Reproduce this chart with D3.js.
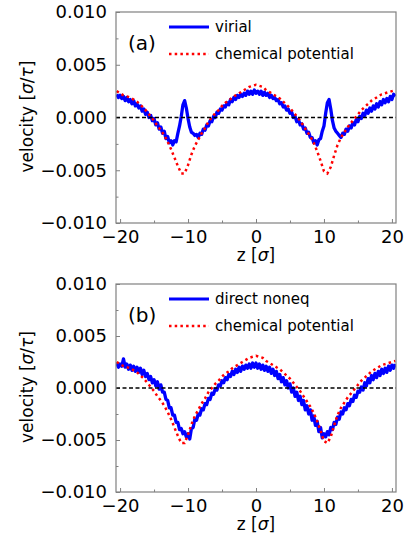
<!DOCTYPE html>
<html>
<head>
<meta charset="utf-8">
<script src="https://cdn.jsdelivr.net/npm/d3@7"></script>
<style>
  body { margin: 0; background: #fff; }
  text { font-family: "DejaVu Sans", sans-serif; }
</style>
</head>
<body>
<svg id="chart" width="407" height="539"></svg>
<script>
// ticks
const zTicks = [-20, -10, 0, 10, 20];
const zMinor = [-15, -5, 5, 15];
const vTicks = [-0.010, -0.005, 0, 0.005, 0.010];
const vMinor = [-0.0075, -0.0025, 0.0025, 0.0075];

// blue series, sampled every 0.25 sigma from z = -20.5 (4 values per row)
const virial = [
  0.0022, 0.0019, 0.0021, 0.0018,
  0.0020, 0.0016, 0.0019, 0.0015,
  0.0017, 0.0013, 0.0016, 0.0011,
  0.0013, 0.0009, 0.0011, 0.0006,
  0.0008, 0.0003, 0.0005, 0.0000,
  0.0002, -0.0003, -0.0001, -0.0007,
  -0.0005, -0.0011, -0.0009, -0.0015,
  -0.0013, -0.0020, -0.0018, -0.0024,
  -0.0022, -0.0026, -0.0022, -0.0023,
  -0.0015, -0.0008, 0.0001, 0.0012,
  0.0016, 0.0009, -0.0001, -0.0009,
  -0.0014, -0.0015, -0.0017, -0.0016,
  -0.0019, -0.0015, -0.0016, -0.0011,
  -0.0012, -0.0007, -0.0008, -0.0003,
  -0.0004, 0.0001, 0.0000, 0.0005,
  0.0004, 0.0008, 0.0007, 0.0011,
  0.0010, 0.0014, 0.0012, 0.0017,
  0.0015, 0.0019, 0.0017, 0.0021,
  0.0019, 0.0022, 0.0020, 0.0023,
  0.0021, 0.0025, 0.0022, 0.0025,
  0.0022, 0.0026, 0.0023, 0.0025,
  0.0022, 0.0025, 0.0021, 0.0024,
  0.0021, 0.0023, 0.0019, 0.0021,
  0.0018, 0.0019, 0.0016, 0.0017,
  0.0013, 0.0014, 0.0010, 0.0011,
  0.0007, 0.0008, 0.0004, 0.0005,
  0.0000, 0.0001, -0.0004, -0.0002,
  -0.0007, -0.0006, -0.0011, -0.0010,
  -0.0015, -0.0014, -0.0019, -0.0019,
  -0.0024, -0.0022, -0.0026, -0.0021,
  -0.0020, -0.0013, -0.0008, 0.0004,
  0.0014, 0.0017, 0.0008, -0.0003,
  -0.0010, -0.0013, -0.0015, -0.0017,
  -0.0019, -0.0015, -0.0016, -0.0011,
  -0.0013, -0.0008, -0.0010, -0.0005,
  -0.0007, -0.0002, -0.0004, 0.0001,
  -0.0001, 0.0004, 0.0002, 0.0007,
  0.0004, 0.0009, 0.0006, 0.0011,
  0.0008, 0.0013, 0.0010, 0.0015,
  0.0012, 0.0017, 0.0014, 0.0018,
  0.0015, 0.0020, 0.0017, 0.0022,
  0.0020
];

const directNoneq = [
  0.0024, 0.0020, 0.0023, 0.0021,
  0.0028, 0.0020, 0.0023, 0.0018,
  0.0022, 0.0017, 0.0021, 0.0016,
  0.0020, 0.0015, 0.0019, 0.0013,
  0.0017, 0.0011, 0.0014, 0.0008,
  0.0011, 0.0005, 0.0008, 0.0002,
  0.0006, -0.0001, 0.0003, -0.0004,
  -0.0004, -0.0011, -0.0012, -0.0019,
  -0.0019, -0.0026, -0.0026, -0.0033,
  -0.0033, -0.0040, -0.0039, -0.0044,
  -0.0042, -0.0047, -0.0044, -0.0049,
  -0.0039, -0.0038, -0.0030, -0.0031,
  -0.0025, -0.0026, -0.0020, -0.0021,
  -0.0015, -0.0016, -0.0010, -0.0011,
  -0.0005, -0.0006, -0.0001, -0.0002,
  0.0003, 0.0002, 0.0007, 0.0005,
  0.0010, 0.0008, 0.0013, 0.0011,
  0.0016, 0.0013, 0.0018, 0.0015,
  0.0020, 0.0016, 0.0021, 0.0018,
  0.0022, 0.0019, 0.0023, 0.0019,
  0.0024, 0.0020, 0.0024, 0.0019,
  0.0023, 0.0018, 0.0022, 0.0017,
  0.0021, 0.0016, 0.0020, 0.0014,
  0.0018, 0.0012, 0.0016, 0.0009,
  0.0013, 0.0006, 0.0010, 0.0003,
  0.0007, 0.0000, 0.0004, -0.0004,
  0.0000, -0.0008, -0.0004, -0.0012,
  -0.0008, -0.0016, -0.0012, -0.0021,
  -0.0017, -0.0025, -0.0021, -0.0031,
  -0.0027, -0.0036, -0.0032, -0.0042,
  -0.0038, -0.0048, -0.0044, -0.0047,
  -0.0042, -0.0045, -0.0038, -0.0040,
  -0.0033, -0.0035, -0.0028, -0.0030,
  -0.0023, -0.0025, -0.0019, -0.0021,
  -0.0015, -0.0017, -0.0011, -0.0013,
  -0.0007, -0.0009, -0.0003, -0.0004,
  0.0001, -0.0002, 0.0005, 0.0002,
  0.0009, 0.0005, 0.0012, 0.0008,
  0.0014, 0.0010, 0.0016, 0.0012,
  0.0018, 0.0014, 0.0019, 0.0015,
  0.0021, 0.0017, 0.0022, 0.0019,
  0.0023
];

// red series, sampled every 0.5 sigma from z = -20.5 (4 values per row)
const chemPot = [
  0.0025, 0.0023, 0.0021, 0.0020,
  0.0019, 0.0017, 0.0015, 0.0012,
  0.0009, 0.0005, 0.0001, -0.0003,
  -0.0008, -0.0012, -0.0017, -0.0023,
  -0.0030, -0.0038, -0.0046, -0.0053,
  -0.0053, -0.0045, -0.0035, -0.0027,
  -0.0021, -0.0015, -0.0010, -0.0004,
  0.0000, 0.0004, 0.0007, 0.0011,
  0.0014, 0.0016, 0.0019, 0.0021,
  0.0023, 0.0025, 0.0027, 0.0029,
  0.0030, 0.0031, 0.0030, 0.0029,
  0.0026, 0.0024, 0.0022, 0.0020,
  0.0018, 0.0015, 0.0012, 0.0009,
  0.0005, 0.0001, -0.0003, -0.0008,
  -0.0013, -0.0018, -0.0024, -0.0032,
  -0.0041, -0.0051, -0.0053, -0.0047,
  -0.0036, -0.0026, -0.0019, -0.0014,
  -0.0009, -0.0005, -0.0001, 0.0003,
  0.0007, 0.0010, 0.0013, 0.0016,
  0.0018, 0.0020, 0.0022, 0.0023,
  0.0024, 0.0025, 0.0026
];

const zFine = virial.map((_, i) => -20.5 + i * 0.25);
const zCoarse = chemPot.map((_, i) => -20.5 + i * 0.5);

const panels = [
  { tag: '(a)', blueLabel: 'virial', blue: virial, top: 12, bottom: 223 },
  { tag: '(b)', blueLabel: 'direct noneq', blue: directNoneq, top: 284, bottom: 492 },
];

const svg = d3.select('#chart');
const left = 116;
const right = 396;
const frameColor = '#808080';
const tickFont = 18;

panels.forEach((p, k) => {
  const x = d3.scaleLinear().domain([-20.6, 20.6]).range([left, right]);
  const y = d3.scaleLinear().domain([-0.010, 0.010]).range([p.bottom, p.top]);
  const g = svg.append('g');

  g.append('clipPath')
    .attr('id', 'clip' + k)
    .append('rect')
    .attr('x', left)
    .attr('y', p.top)
    .attr('width', right - left)
    .attr('height', p.bottom - p.top);

  // x axis (ticks pointing inward)
  const xa = g.append('g')
    .attr('transform', `translate(0,${p.bottom})`)
    .call(d3.axisBottom(x).tickValues(zTicks).tickFormat(d3.format('d'))
      .tickSizeInner(-4).tickSizeOuter(0));
  xa.append('g').call(d3.axisBottom(x).tickValues(zMinor).tickFormat('')
    .tickSizeInner(-2.5).tickSizeOuter(0));
  xa.selectAll('text').attr('y', 19.5).attr('dy', null)
    .attr('font-size', tickFont).attr('fill', '#000').attr('font-family', '"DejaVu Sans", sans-serif');

  const ya = g.append('g')
    .attr('transform', `translate(${left},0)`)
    .call(d3.axisLeft(y).tickValues(vTicks).tickFormat(d3.format('.3f'))
      .tickSizeInner(-4).tickSizeOuter(0).tickPadding(9));
  ya.append('g').call(d3.axisLeft(y).tickValues(vMinor).tickFormat('')
    .tickSizeInner(-2.5).tickSizeOuter(0));
  ya.selectAll('text').attr('font-size', tickFont).attr('fill', '#000')
    .attr('font-family', '"DejaVu Sans", sans-serif');

  g.selectAll('.domain').remove();
  g.selectAll('.tick line').attr('stroke', frameColor).attr('stroke-width', 1);

  const plot = g.append('g').attr('clip-path', `url(#clip${k})`);

  const blueLine = d3.line().x((d, i) => x(zFine[i])).y(d => y(d));
  const redLine = d3.line().x((d, i) => x(zCoarse[i])).y(d => y(d));

  plot.append('path')
    .datum(p.blue)
    .attr('d', blueLine)
    .attr('fill', 'none')
    .attr('stroke', '#0000ff')
    .attr('stroke-width', 3.3)
    .attr('stroke-linejoin', 'round');

  plot.append('path')
    .datum(chemPot)
    .attr('d', redLine)
    .attr('fill', 'none')
    .attr('stroke', '#ff0000')
    .attr('stroke-width', 2.5)
    .attr('stroke-dasharray', '2.5,3.2');

  plot.append('line')
    .attr('x1', left).attr('x2', right)
    .attr('y1', y(0)).attr('y2', y(0))
    .attr('stroke', '#000')
    .attr('stroke-width', 1.3)
    .attr('stroke-dasharray', '4,2.5');

  // frame
  g.append('rect')
    .attr('x', left).attr('y', p.top)
    .attr('width', right - left).attr('height', p.bottom - p.top)
    .attr('fill', 'none')
    .attr('stroke', frameColor)
    .attr('stroke-width', 1.2);

  // panel tag
  g.append('text')
    .attr('x', 128).attr('y', p.top + 31).attr('dy', '0.35em')
    .attr('font-size', 20)
    .text(p.tag);

  // legend
  const leg = g.append('g');
  leg.append('line')
    .attr('x1', 169).attr('x2', 209)
    .attr('y1', p.top + 15).attr('y2', p.top + 15)
    .attr('stroke', '#0000ff').attr('stroke-width', 3);
  leg.append('text')
    .attr('x', 215).attr('y', p.top + 15).attr('dy', '0.35em')
    .attr('font-size', 15)
    .text(p.blueLabel);
  leg.append('line')
    .attr('x1', 169).attr('x2', 209)
    .attr('y1', p.top + 42).attr('y2', p.top + 42)
    .attr('stroke', '#ff0000').attr('stroke-width', 2.5)
    .attr('stroke-dasharray', '2.5,3.2');
  leg.append('text')
    .attr('x', 215).attr('y', p.top + 42).attr('dy', '0.35em')
    .attr('font-size', 15)
    .text('chemical potential');

  // axis labels
  const xl = g.append('text')
    .attr('x', (left + right) / 2).attr('y', p.bottom + 38)
    .attr('text-anchor', 'middle')
    .attr('font-size', 17);
  xl.append('tspan').text('z [');
  xl.append('tspan').attr('font-style', 'italic').text('σ');
  xl.append('tspan').text(']');

  const yl = g.append('text')
    .attr('transform', `translate(33,${(p.top + p.bottom) / 2 - 1}) rotate(-90)`)
    .attr('text-anchor', 'middle')
    .attr('font-size', 17);
  yl.append('tspan').text('velocity [');
  yl.append('tspan').attr('font-style', 'italic').text('σ');
  yl.append('tspan').text('/');
  yl.append('tspan').attr('font-style', 'italic').text('τ');
  yl.append('tspan').text(']');
});
</script>
</body>
</html>
